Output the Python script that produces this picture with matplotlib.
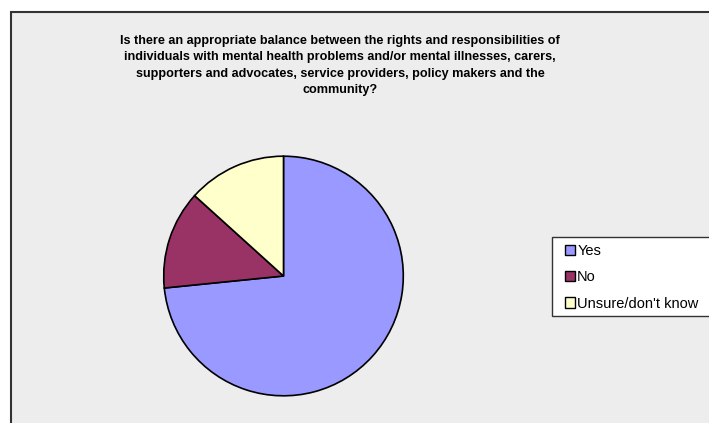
import matplotlib
matplotlib.use("Agg")
import matplotlib.pyplot as plt
from matplotlib.patches import Rectangle

categories = ["Yes", "No", "Unsure/don't know"]
values = [73.4, 13.3, 13.3]
colors = ["#9999FF", "#993366", "#FFFFCC"]
title = ("Is there an appropriate balance between the rights and responsibilities of\n"
         "individuals with mental health problems and/or mental illnesses, carers,\n"
         "supporters and advocates, service providers, policy makers and the\n"
         "community?")

W, H = 709, 423
fig = plt.figure(figsize=(W / 100, H / 100), dpi=100)
fig.patch.set_facecolor("white")

# chart area background with border (left/top visible)
fig.patches.append(Rectangle((11 / W, -0.1), 1.2, (H - 12) / H + 0.1,
                             transform=fig.transFigure, facecolor="#EDEDED",
                             edgecolor="#333333", linewidth=1.5, zorder=-5))

fig.text(340 / W, 1 - 65.5 / H, title, ha="center", va="center", fontsize=9.1,
         fontweight="bold", family="Liberation Sans", linespacing=1.5)

cx, cy, r = 283.5, 276, 121
ax = fig.add_axes([(cx - r) / W, (H - cy - r) / H, 2 * r / W, 2 * r / H], zorder=2)
wedges, _ = ax.pie(values, colors=colors, startangle=90, counterclock=False,
                   wedgeprops=dict(edgecolor="black", linewidth=1.2))
ax.set_xlim(-1.01, 1.01)
ax.set_ylim(-1.01, 1.01)
ax.set_facecolor("none")

# legend box
fig.patches.append(Rectangle((552 / W, 1 - 316 / H), 0.5, 79 / H,
                             transform=fig.transFigure, facecolor="white",
                             edgecolor="#333333", linewidth=1.0, zorder=-4))
leg = fig.legend(wedges, categories, loc="upper left",
                 bbox_to_anchor=(559 / W, 1 - 238 / H), frameon=False,
                 prop={"family": "Liberation Sans", "size": 10.5},
                 handlelength=0.7, handleheight=0.7, handletextpad=0.15,
                 labelspacing=0.85, borderaxespad=0)
for h in leg.legend_handles:
    h.set_linewidth(1.0)
    h.set_edgecolor("black")

fig.savefig("out.png", dpi=100)
